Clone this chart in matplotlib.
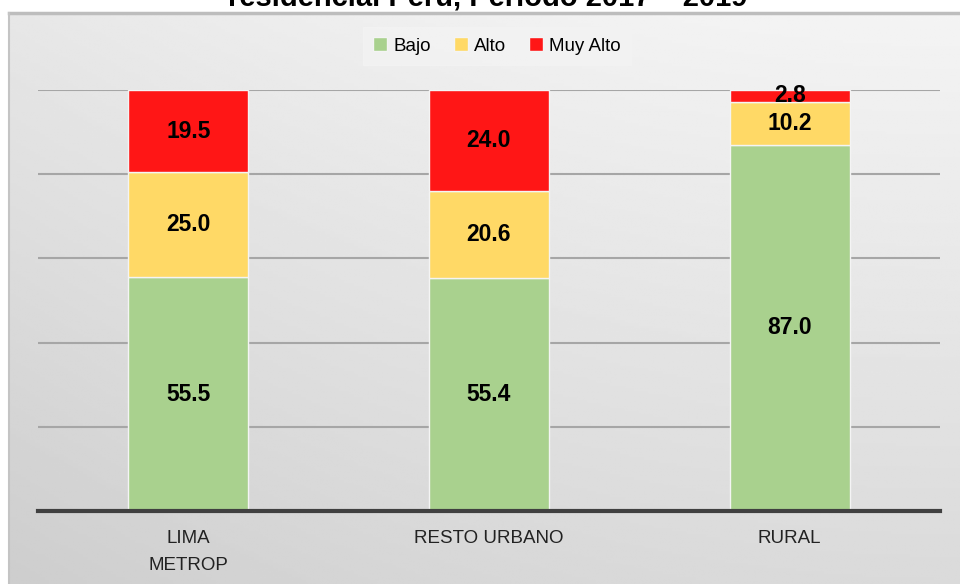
import matplotlib
matplotlib.use("Agg")
import matplotlib.pyplot as plt
import numpy as np

categories = ["LIMA\nMETROP", "RESTO URBANO", "RURAL"]
bajo = [55.5, 55.4, 87.0]
alto = [25.0, 20.6, 10.2]
muy_alto = [19.5, 24.0, 2.8]
series_names = ["Bajo", "Alto", "Muy Alto"]
colors = ["#a9d18e", "#ffd966", "#ff1616"]
title = "residencial Perú, Periodo 2017 – 2019"

fig = plt.figure(figsize=(9.6, 5.84), dpi=100)
fig.patch.set_facecolor("white")

# gradient background panel
bg = fig.add_axes([9/960, 0, 951/960, 1 - 13/584], zorder=0)
yy, xx = np.mgrid[0:1:200j, 0:1:200j]
grad = 0.955 - 0.10 * yy - 0.05 * (1 - xx) ** 2
bg.imshow(grad, cmap="gray", vmin=0, vmax=1, aspect="auto", extent=[0, 1, 0, 1], origin="upper")
bg.set_xlim(0, 1); bg.set_ylim(0, 1)
bg.axis("off")
fig.add_artist(plt.Line2D([9/960, 1], [1 - 13/584, 1 - 13/584], color="#bdbdbd", lw=2.5, transform=fig.transFigure))
fig.add_artist(plt.Line2D([9/960, 9/960], [0, 1 - 13/584], color="#c4c4c4", lw=1.5, transform=fig.transFigure))

ax = fig.add_axes([38/960, 1 - 511/584, 902/960, 421/584], zorder=2)
ax.patch.set_alpha(0)
x = np.arange(len(categories))
w = 0.4
bottoms = np.zeros(len(categories))
for vals, name, c in zip([bajo, alto, muy_alto], series_names, colors):
    ax.bar(x, vals, w, bottom=bottoms, color=c, edgecolor="#f4f4f4", linewidth=1.0, label=name, zorder=3)
    for xi, b, v in zip(x, bottoms, vals):
        ax.text(xi, b + v / 2, f"{v:.1f}", ha="center", va="center", fontsize=16.5,
                fontweight="bold", family="Liberation Sans", color="black", zorder=4)
    bottoms = bottoms + np.array(vals)

ax.set_xlim(-0.5, 2.5)
ax.set_ylim(0, 100)
ax.set_yticks([0, 20, 40, 60, 80, 100])
ax.yaxis.grid(True, color="#a6a6a6", lw=1.5, zorder=1)
ax.set_yticklabels([])
ax.tick_params(axis="y", length=0)
ax.tick_params(axis="x", length=0, pad=14)
ax.set_xticks(x)
ax.set_xticklabels(categories, fontsize=13.5, family="Liberation Sans", color="#222222", linespacing=1.7)
for s in ["top", "right", "left"]:
    ax.spines[s].set_visible(False)
ax.spines["bottom"].set_color("#404040")
ax.spines["bottom"].set_linewidth(3)
ax.spines["bottom"].set_zorder(5)

leg = ax.legend(loc="center", bbox_to_anchor=(497/960, 1 - 46/584), bbox_transform=fig.transFigure,
                ncol=3, frameon=True, prop={"family": "Liberation Sans", "size": 13.5},
                handlelength=0.75, handleheight=0.75, handletextpad=0.35, columnspacing=1.2,
                borderpad=0.55, fancybox=False)
leg.get_frame().set_facecolor("#f3f3f3")
leg.get_frame().set_edgecolor("#f3f3f3")

fig.text(488/960, 1 + 2/584, title, ha="center", va="center", fontsize=21, fontweight="bold",
         family="Liberation Sans", color="black")

fig.savefig("out.png", dpi=100)
